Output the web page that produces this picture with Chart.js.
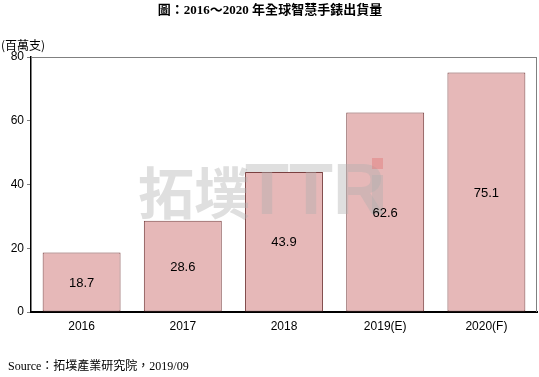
<!DOCTYPE html>
<html><head><meta charset="utf-8">
<script src="https://cdn.jsdelivr.net/npm/chart.js@4"></script>
<style>html,body{margin:0;padding:0;background:#fff}#w{position:relative;width:539px;height:377px}</style>
</head><body><div id="w"><canvas id="c" width="539" height="377"></canvas></div>
<script>
const categories = ["2016", "2017", "2018", "2019(E)", "2020(F)"];
const shipments = [18.7, 28.6, 43.9, 62.6, 75.1];
const yTicks = [0, 20, 40, 60, 80];
const titleText = "圖：2016～2020 年全球智慧手錶出貨量";
const unitText = "(百萬支)";
const sourceText = "Source：拓墣產業研究院，2019/09";

const deco = {
  id: 'deco',
  afterDatasetsDraw(chart) {
    const ctx = chart.ctx;
    ctx.save();
    ctx.globalAlpha = 0.4;
    ctx.fillStyle = '#b0b0b0';
    ctx.font = 'bold 56px "Noto Sans CJK TC"';
    ctx.textBaseline = 'alphabetic';
    ctx.fillText('拓墣', 138, 214);
    ctx.font = 'bold 72px "Liberation Sans"';
    ctx.fillText('TTR', 245, 214);
    ctx.fillRect(372, 175, 11, 39);
    ctx.fillStyle = '#e07070';
    ctx.fillRect(372, 158, 11, 11);
    ctx.restore();
  },
  afterDraw(chart) {
    const ctx = chart.ctx, a = chart.chartArea;
    ctx.save();
    ctx.strokeStyle = '#808080';
    ctx.lineWidth = 1;
    ctx.beginPath();
    ctx.moveTo(a.left, a.top + 0.5); ctx.lineTo(a.right, a.top + 0.5);
    ctx.moveTo(a.right - 0.5, a.top); ctx.lineTo(a.right - 0.5, a.bottom);
    ctx.stroke();
    ctx.fillStyle = '#000';
    ctx.font = 'bold 13px "Liberation Serif", "Noto Sans CJK TC"';
    ctx.textAlign = 'center'; ctx.textBaseline = 'middle';
    ctx.fillText(titleText, 270, 11);
    ctx.textAlign = 'left';
    ctx.font = '12px "Noto Sans CJK TC"';
    ctx.fillText(unitText, 1, 45);
    ctx.font = '12px "Liberation Serif", "Noto Sans CJK TC"';
    ctx.fillText(sourceText, 8, 367);
    ctx.textAlign = 'center';
    ctx.font = '13px "Liberation Sans"';
    const meta = chart.getDatasetMeta(0);
    meta.data.forEach((el, i) => {
      ctx.fillText(shipments[i].toFixed(1), el.x, (el.y + el.base) / 2 + 1);
    });
    ctx.restore();
  }
};

new Chart(document.getElementById('c'), {
  type: 'bar',
  data: {
    labels: categories,
    datasets: [{
      data: shipments,
      backgroundColor: '#e6b8b8',
      borderColor: '#7a4040',
      borderWidth: 1,
      borderSkipped: false,
      categoryPercentage: 1,
      barPercentage: 0.77
    }]
  },
  options: {
    responsive: false,
    animation: false,
    events: [],
    layout: { padding: { top: 57, right: 2, left: 0, bottom: 0 } },
    plugins: { legend: { display: false }, tooltip: { enabled: false }, title: { display: false } },
    scales: {
      x: {
        grid: { display: false, drawTicks: false },
        border: { color: '#000', width: 2 },
        ticks: { color: '#000', font: { family: 'Liberation Sans', size: 12 }, padding: 7 },
        afterFit(s) { s.height = 65; }
      },
      y: {
        min: 0, max: 80,
        afterBuildTicks(s) { s.ticks = yTicks.map(v => ({ value: v })); },
        grid: { display: true, drawOnChartArea: false, drawTicks: true, tickLength: 4, color: '#808080' },
        border: { color: '#000', width: 1.5 },
        ticks: { color: '#000', font: { family: 'Liberation Sans', size: 12 }, padding: 3 },
        afterFit(s) { s.width = 31; }
      }
    }
  },
  plugins: [deco]
});
</script></body></html>
